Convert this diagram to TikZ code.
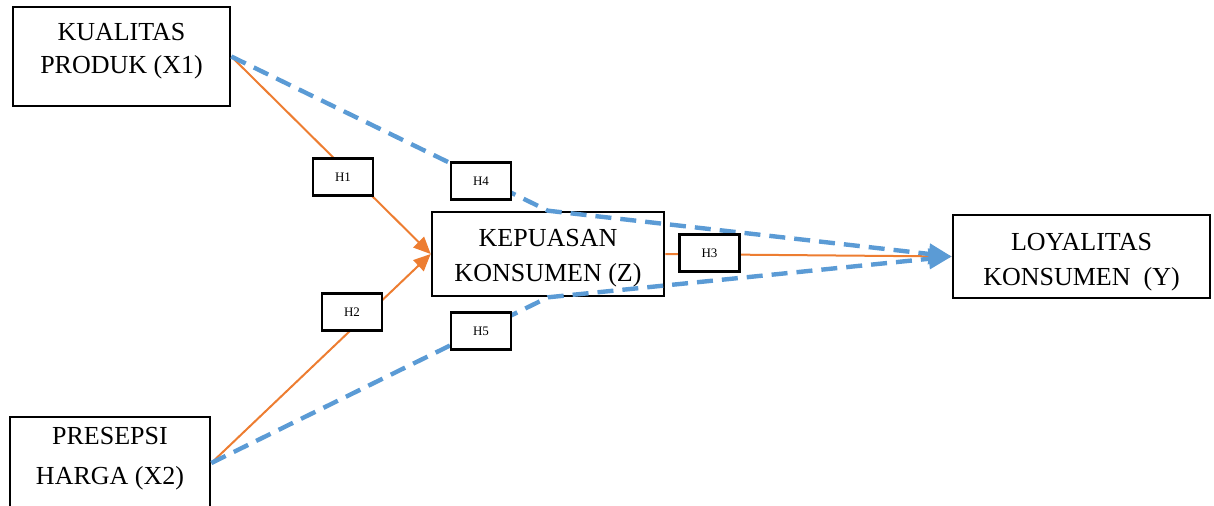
\documentclass[tikz,border=0pt]{standalone}
\usepackage{fontspec}
\setmainfont{Liberation Serif}
\usetikzlibrary{arrows.meta}

\definecolor{pathorange}{HTML}{ED7D31}
\definecolor{pathblue}{HTML}{5B9BD5}

\begin{document}
\begin{tikzpicture}[x=0.5pt, y=-0.5pt,
    var/.style={draw, line width=1.3pt, fill=white, inner sep=0pt},
    vartext/.style={align=center, inner sep=0pt, font=\fontsize{13}{17.5}\selectfont},
    hyp/.style={draw, line width=1.3pt, fill=white, inner sep=0pt,
        minimum width=30pt, minimum height=18.5pt, font=\fontsize{6.5}{8}\selectfont},
    direct/.style={pathorange, line width=1pt, -{Triangle[length=8.5pt, width=7.5pt]}},
    indirect/.style={pathblue, line width=2.2pt, dash pattern=on 8pt off 4.5pt,
        -{Triangle[length=11.5pt, width=10pt]}}]
    \useasboundingbox (0,0) rectangle (1214,505);

    % Variables
    \node[var, minimum width=108.5pt, minimum height=49.5pt] (x1) at (121.5,56.5) {};
    \node[vartext, font=\fontsize{13}{16.5}\selectfont] (x1text) at ([yshift=2.6pt]x1.center) {KUALITAS\\PRODUK (X1)};

    \node[var, minimum width=100pt, minimum height=46pt] (x2) at (110,463) {};
    \node[vartext, font=\fontsize{13}{20}\selectfont] (x2text) at ([yshift=2.3pt]x2.center) {PRESEPSI\\HARGA (X2)};

    \node[var, minimum width=116pt, minimum height=42pt] (z) at (548,254) {};
    \node[vartext] (ztext) at ([yshift=-2.1pt]z.center) {KEPUASAN\\KONSUMEN (Z)};

    \node[var, minimum width=128.5pt, minimum height=41.5pt] (y) at (1081.5,256.5) {};
    \node[vartext] (ytext) at ([yshift=-2.6pt]y.center) {LOYALITAS\\KONSUMEN\ \ (Y)};

    % Direct effects
    \draw[direct] (x1.east) -- (z.west);
    \draw[direct] (x2.east) -- (z.west);
    \draw[direct] (z.east) -- (y.west);

    % Indirect effects through Z
    \draw[indirect] (x1.east) -- (z.north) -- (y.west);
    \draw[indirect] (x2.east) -- (z.south) -- (y.west);

    % Hypothesis labels
    \node[hyp] (h1) at (343,177) {H1};
    \node[hyp] (h2) at (352,312) {H2};
    \node[hyp] (h3) at (709.5,253) {H3};
    \node[hyp] (h4) at (481,181) {H4};
    \node[hyp] (h5) at (481,331) {H5};
\end{tikzpicture}
\end{document}
